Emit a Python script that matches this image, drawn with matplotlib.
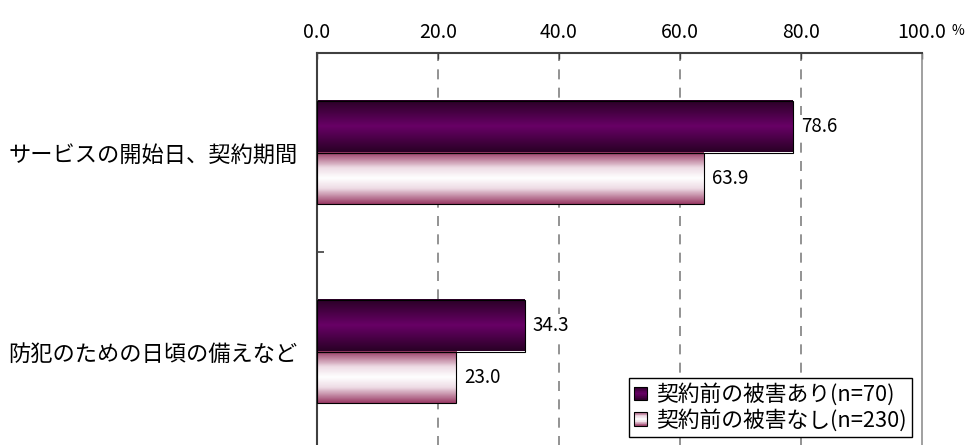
import numpy as np
import matplotlib
matplotlib.use("Agg")
import matplotlib.pyplot as plt
from matplotlib.colors import LinearSegmentedColormap
from matplotlib.patches import Rectangle, Patch
from matplotlib.legend_handler import HandlerBase

plt.rcParams['font.family'] = ['Noto Sans CJK JP', 'DejaVu Sans']

# データ
categories = ['サービスの開始日、契約期間', '防犯のための日頃の備えなど']
series_names = ['契約前の被害あり(n=70)', '契約前の被害なし(n=230)']
damage_yes = [78.6, 34.3]
damage_no = [63.9, 23.0]
xticks = [0, 20, 40, 60, 80, 100]
xtick_labels = ['0.0', '20.0', '40.0', '60.0', '80.0', '100.0']

# グラデーション
cmap_yes = LinearSegmentedColormap.from_list(
    'yes', [(0, '#2a0026'), (0.5, '#680066'), (1, '#2a0026')])
cmap_no = LinearSegmentedColormap.from_list(
    'no', [(0, '#9a3c66'), (0.3, '#eedce5'), (0.5, '#ffffff'),
           (0.7, '#eedce5'), (1, '#9a3c66')])


class GradHandler(HandlerBase):
    def __init__(self, cmap):
        super().__init__()
        self.cmap = cmap

    def create_artists(self, legend, orig_handle, xdescent, ydescent,
                       width, height, fontsize, trans):
        n = 20
        arts = []
        for i in range(n):
            c = self.cmap(1 - (i + 0.5) / n)
            arts.append(Rectangle((-xdescent, -ydescent + height * i / n),
                                  width, height / n, facecolor=c,
                                  edgecolor='none', transform=trans))
        arts.append(Rectangle((-xdescent, -ydescent), width, height,
                              facecolor='none', edgecolor='black',
                              linewidth=0.8, transform=trans))
        return arts


W, H = 967, 445
fig = plt.figure(figsize=(W / 100, H / 100), dpi=100)
ax = fig.add_axes([317 / W, (H - 451) / H, (922 - 317) / W, (451 - 53) / H])

y = np.arange(len(categories))
bh = 0.26
grad = np.linspace(0, 1, 64).reshape(-1, 1)

for vals, cmap, off in [(damage_yes, cmap_yes, -bh / 2), (damage_no, cmap_no, bh / 2)]:
    for yi, v in zip(y, vals):
        top = yi + off - bh / 2
        bot = yi + off + bh / 2
        ax.imshow(grad, cmap=cmap, aspect='auto', extent=(0, v, bot, top),
                  zorder=2, interpolation='bilinear')
        ax.add_patch(Rectangle((0, top), v, bh, facecolor='none',
                               edgecolor='black', linewidth=0.8, zorder=3))
        ax.annotate(f'{v:.1f}', (v, yi + off), xytext=(6, 0),
                    textcoords='offset points', va='center', ha='left',
                    fontsize=13.5, zorder=4,
                    bbox=dict(facecolor='white', edgecolor='none', pad=0.5))

ax.set_xlim(0, 100)
ax.set_ylim(len(categories) - 0.5, -0.5)

# グリッド
for xv in xticks[1:-1]:
    ax.axvline(xv, color='#808080', linestyle=(0, (6, 5)), linewidth=1.2, zorder=1)

ax.xaxis.tick_top()
ax.set_xticks(xticks)
ax.set_xticklabels(xtick_labels, fontsize=14)
ax.tick_params(axis='x', direction='in', length=4, width=1, pad=7, colors='#404040',
               labelcolor='black')

ax.set_yticks(y)
ax.set_yticklabels(categories, fontsize=16)
ax.set_yticks([0.5], minor=True)
ax.tick_params(axis='y', which='major', length=0, pad=14)
ax.tick_params(axis='y', which='minor', direction='in', length=5, width=1.2,
               color='#404040')

fig.text(958 / W, 1 - 31 / H, '%', fontsize=10, ha='center', va='center')

ax.spines['left'].set_color('#404040')
ax.spines['left'].set_linewidth(1.5)
ax.spines['top'].set_color('#404040')
ax.spines['top'].set_linewidth(1.5)
ax.spines['right'].set_color('#909090')
ax.spines['right'].set_linewidth(1.2)
ax.spines['bottom'].set_visible(False)

h1 = Patch(label=series_names[0])
h2 = Patch(label=series_names[1])
leg = ax.legend([h1, h2], series_names, loc='lower right',
                bbox_to_anchor=(0.9835, 0.035), borderaxespad=0,
                handler_map={h1: GradHandler(cmap_yes), h2: GradHandler(cmap_no)},
                fontsize=15.7, handlelength=0.6, handleheight=0.6,
                handletextpad=0.4, labelspacing=0.12, borderpad=0.25,
                fancybox=False, framealpha=1, edgecolor='black')
leg.get_frame().set_linewidth(1.0)
leg.set_zorder(5)

fig.savefig('out.png', dpi=100)
